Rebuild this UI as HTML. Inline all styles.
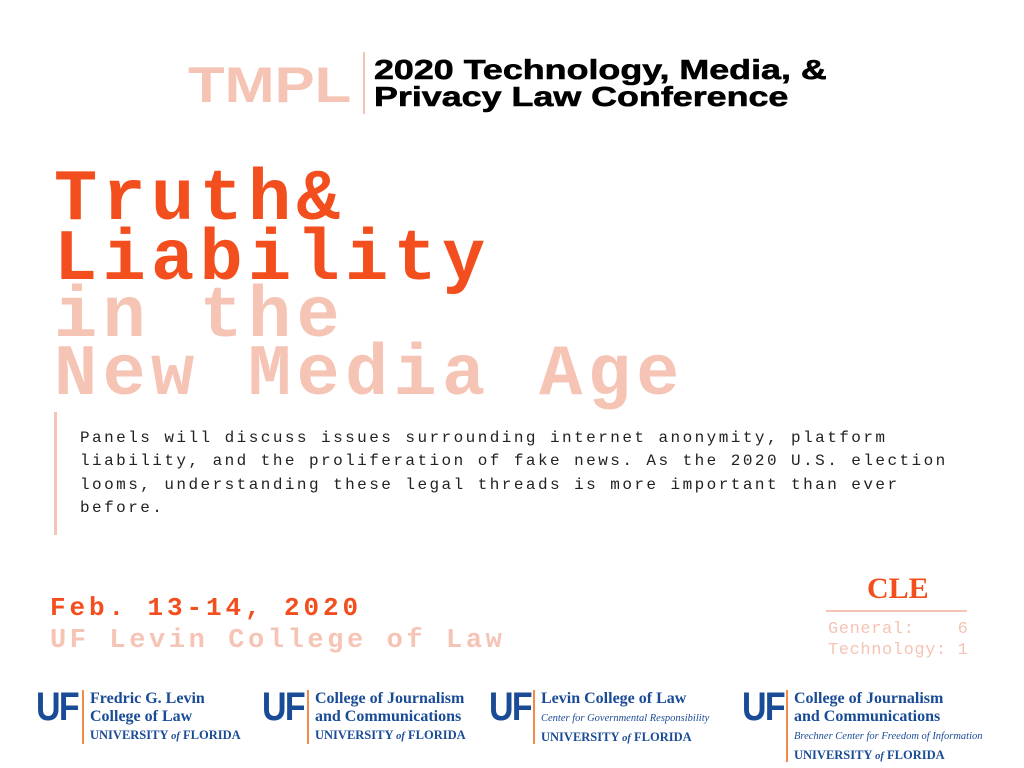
<!DOCTYPE html>
<html><head><meta charset="utf-8"><style>
body{margin:0;width:1024px;height:768px;background:#fff;position:relative;overflow:hidden;font-family:"Liberation Sans",sans-serif}
.a{position:absolute;white-space:pre}
.mono{font-family:"Liberation Mono",monospace}
.or{color:#f24e1e}.pk{color:#f5c4b5}
.uf{position:absolute;font-family:"Liberation Sans",sans-serif;font-weight:bold;color:#1a4b96;font-size:40px;line-height:42px;letter-spacing:-2px;transform:scaleX(0.85);transform-origin:left}
.lg{position:absolute;border-left:2px solid #f28b4a;padding-left:6px;font-family:"Liberation Serif",serif;color:#1a4b96;line-height:18px}
.lg b{font-size:16px}.lg i{font-size:10.5px}
.lg .u{font-size:12.5px;font-weight:bold}
</style></head><body>
<div class="a pk" style="left:188px;top:56px;font-size:50px;font-weight:900;transform:scaleX(1.2);transform-origin:left;">TMPL</div>
<div class="a" style="left:363px;top:52px;width:2px;height:62px;background:#f5c4b5"></div>
<div class="a" style="left:374px;top:56px;font-size:28px;font-weight:900;line-height:27px;color:#000;transform:scaleX(1.28);transform-origin:left;-webkit-text-stroke:0.6px #000">2020 Technology, Media, &amp;
Privacy Law Conference</div>
<div class="a mono or" style="left:54px;top:170px;font-size:72px;font-weight:bold;line-height:60px;letter-spacing:5.3px">Truth&amp;
Liability</div>
<div class="a mono pk" style="left:54px;top:288px;font-size:72px;font-weight:bold;line-height:58px;letter-spacing:5.3px">in the
New Media Age</div>
<div class="a" style="left:54px;top:412px;width:3px;height:123px;background:#f5c4b5"></div>
<div class="a mono" style="left:80px;top:427px;font-size:16px;letter-spacing:2.45px;line-height:23.3px;color:#222">Panels will discuss issues surrounding internet anonymity, platform
liability, and the proliferation of fake news. As the 2020 U.S. election
looms, understanding these legal threads is more important than ever
before.</div>
<div class="a mono or" style="left:50px;top:593px;font-size:26px;font-weight:bold;letter-spacing:3.9px">Feb. 13-14, 2020</div>
<div class="a mono pk" style="left:50px;top:626px;font-size:27px;font-weight:bold;letter-spacing:3.6px">UF Levin College of Law</div>
<div class="a or" style="left:867px;top:572px;font-size:30px;font-weight:bold;font-family:'Liberation Serif',serif">CLE</div>
<div class="a" style="left:826px;top:610px;width:141px;height:2px;background:#f5c4b5"></div>
<div class="a mono pk" style="left:828px;top:619px;font-size:17px;line-height:21px;letter-spacing:0.6px">General:    6
Technology: 1</div>

<div class="uf" style="left:36px;top:686px">UF</div>
<div class="lg" style="left:82px;top:690px;height:54px"><b>Fredric G. Levin</b><br><b>College of Law</b><br><span class="u">UNIVERSITY <i>of</i> FLORIDA</span></div>
<div class="uf" style="left:262px;top:686px">UF</div>
<div class="lg" style="left:307px;top:690px;height:54px"><b>College of Journalism</b><br><b>and Communications</b><br><span class="u">UNIVERSITY <i>of</i> FLORIDA</span></div>
<div class="uf" style="left:489px;top:686px">UF</div>
<div class="lg" style="left:533px;top:690px;height:54px"><b>Levin College of Law</b><br><i style="font-size:10.5px">Center for Governmental Responsibility</i><br><span class="u">UNIVERSITY <i>of</i> FLORIDA</span></div>
<div class="uf" style="left:742px;top:686px">UF</div>
<div class="lg" style="left:786px;top:690px;height:72px"><b>College of Journalism</b><br><b>and Communications</b><br><i>Brechner Center for Freedom of Information</i><br><span class="u">UNIVERSITY <i>of</i> FLORIDA</span></div>
</body></html>
